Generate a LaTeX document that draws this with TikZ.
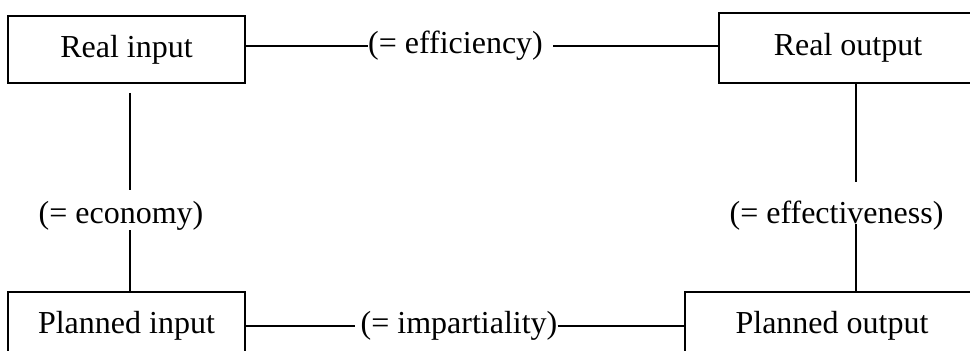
\documentclass[tikz,border=0pt]{standalone}
\usepackage{fontspec}
\setmainfont{Liberation Serif}
\usetikzlibrary{positioning}
\tikzset{
  blk/.style={draw,line width=0.9pt,inner sep=0pt,font=\fontsize{16}{19}\selectfont,minimum width=#1},
  lbl/.style={inner sep=0pt,font=\fontsize{16}{19}\selectfont},
  conn/.style={line width=0.75pt},
}
\begin{document}
\begin{tikzpicture}[x=0.5pt,y=-0.5pt]
\useasboundingbox (0,0) rectangle (970,351);
\clip (0,0) rectangle (970,351);
\node[blk=118.5pt,minimum height=33.5pt] (realin)  at (126.5,49.5) {Real input};
\node[blk=129pt,minimum height=35pt]     (realout) at (848,48)     {Real output};
\node[blk=118.5pt,minimum height=33.5pt] (planin)  at (126.5,325.5) {Planned input};
\node[blk=147pt,minimum height=33.5pt]   (planout) at (832,325.5)  {Planned output};
\node[lbl] (eff)  at (455.5,46)  {(= efficiency)};
\node[lbl] (imp)  at (459,326)   {(= impartiality)};
\node[lbl] (eco)  at (121,215.5) {(= economy)};
\node[lbl] (effv) at (836.5,215.5) {(= effectiveness)};
% top and bottom
\draw[conn] (eff.west -| realin.east) -- (eff.west);
\draw[conn] ([xshift=5pt]eff.east) -- (eff.east -| realout.west);
\draw[conn] (imp.west -| planin.east) -- ([xshift=-2.5pt]imp.west);
\draw[conn] (imp.east) -- (imp.east -| planout.west);
% sides
\draw[conn,shorten >=5.5pt] ([xshift=1.75pt,yshift=-4.5pt]realin.south) -- ([xshift=1.75pt]realin.south |- eco.north);
\draw[conn] ([xshift=1.75pt]planin.north |- eco.south) -- ([xshift=1.75pt]planin.north);
\draw[conn,shorten >=9pt] ([xshift=4pt]realout.south) -- ([xshift=4pt]realout.south |- effv.north);
\draw[conn,shorten <=-3.5pt] ([xshift=12pt]planout.north |- effv.south) -- ([xshift=12pt]planout.north);
\end{tikzpicture}
\end{document}
